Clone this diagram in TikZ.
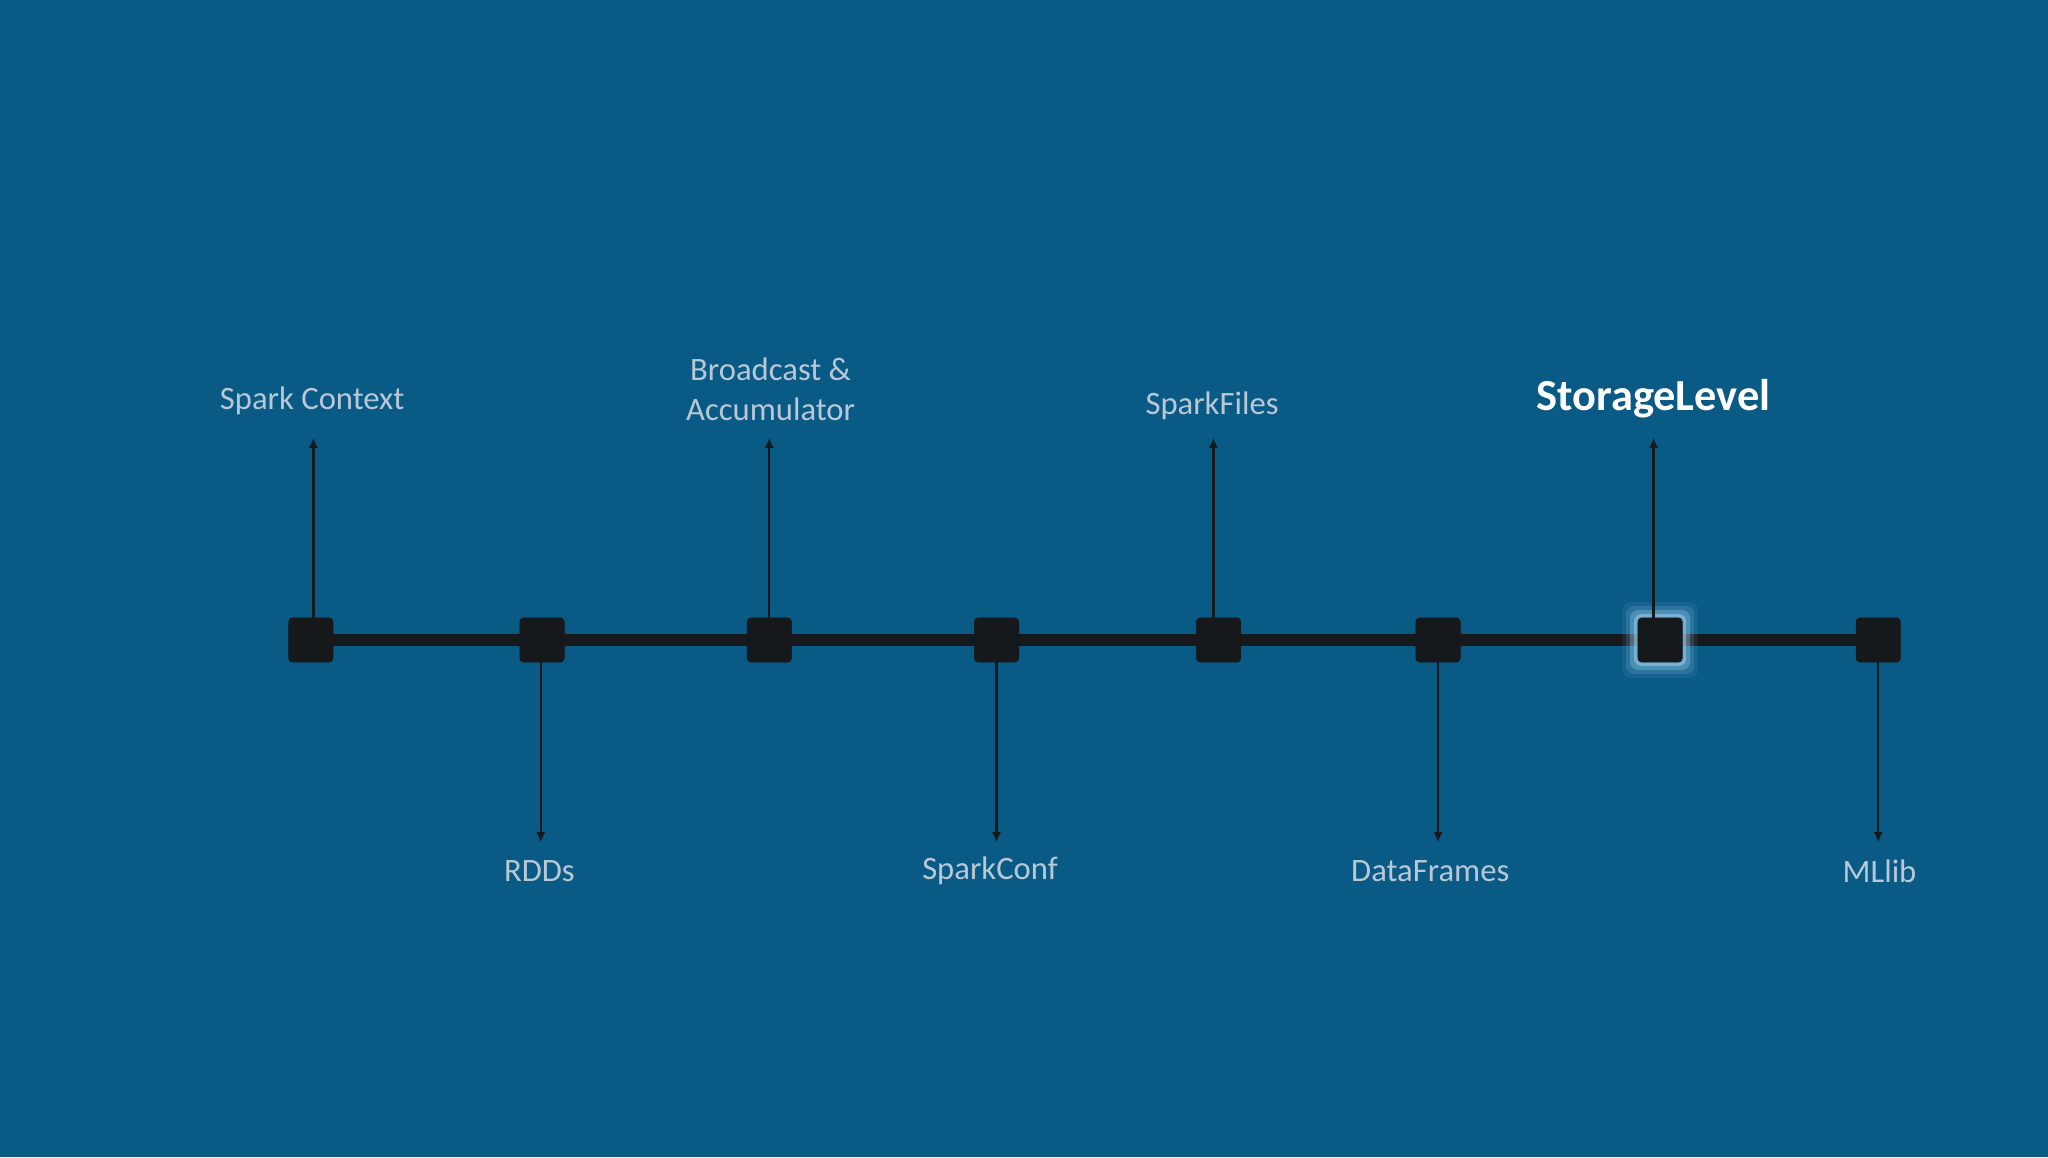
\documentclass[tikz,border=0pt]{standalone}
\usepackage{fontspec}
\setmainfont{Carlito}
\usetikzlibrary{arrows.meta}
\definecolor{bg}{HTML}{0A5A86}
\definecolor{lbl}{HTML}{B8C8D6}
\definecolor{dark}{HTML}{16191C}
\definecolor{glow}{HTML}{9FD0EE}
\tikzset{
  sq/.style={draw=dark,fill=dark,rounded corners=3pt,minimum size=34pt,inner sep=0pt},
  arr/.style={draw=dark,line width=1.8pt,-{Latex[length=8pt,width=7pt]}},
  lab/.style={text=lbl,font=\fontsize{25}{30}\selectfont,align=center},
}
\begin{document}
\begin{tikzpicture}[x=1pt,y=1pt]
\fill[bg] (0,0) rectangle (1568,886);
\useasboundingbox (0,0) rectangle (1568,886);
\draw[dark,line width=9pt] (238,396) -- (1438,396);
\foreach \n/\x in {a/238,b/415,c/589,d/763,e/933,f/1101,h/1438}{
  \node[sq] (\n) at (\x,396) {};
}
\foreach \w/\o in {12/0.08,9/0.15,6/0.3,3/0.5}{
  \fill[glow,opacity=\o,rounded corners=6pt] (1271-17-\w,396-17-\w) rectangle (1271+17+\w,396+17+\w);
}
\node[sq] (g) at (1271,396) {};
\coordinate (ua) at (240,551);
\coordinate (uc) at (589,551);
\coordinate (ue) at (929,551);
\coordinate (ug) at (1266,551);
\coordinate (db) at (414,241);
\coordinate (dd) at (763,241);
\coordinate (df) at (1101,241);
\coordinate (dh) at (1438,241);
\draw[arr] (a.north -| ua) -- (ua);
\draw[arr] (c.north -| uc) -- (uc);
\draw[arr] (e.north -| ue) -- (ue);
\draw[arr] (g.north -| ug) -- (ug);
\draw[arr] (b.south -| db) -- (db);
\draw[arr] (d.south -| dd) -- (dd);
\draw[arr] (f.south -| df) -- (df);
\draw[arr] (h.south -| dh) -- (dh);
\node[lab] (la) at (239,579) {Spark Context};
\node[lab] (lc) at (590,588) {Broadcast \&\\Accumulator};
\node[lab] (le) at (928,575) {SparkFiles};
\node[text=white,font=\bfseries\fontsize{34}{38}\selectfont] (lg) at (1266,581) {StorageLevel};
\node[lab] (lb) at (413,219) {RDDs};
\node[lab] (ld) at (758,219) {SparkConf};
\node[lab] (lf) at (1095,219) {DataFrames};
\node[lab] (lh) at (1439,219) {MLlib};
\end{tikzpicture}
\end{document}
